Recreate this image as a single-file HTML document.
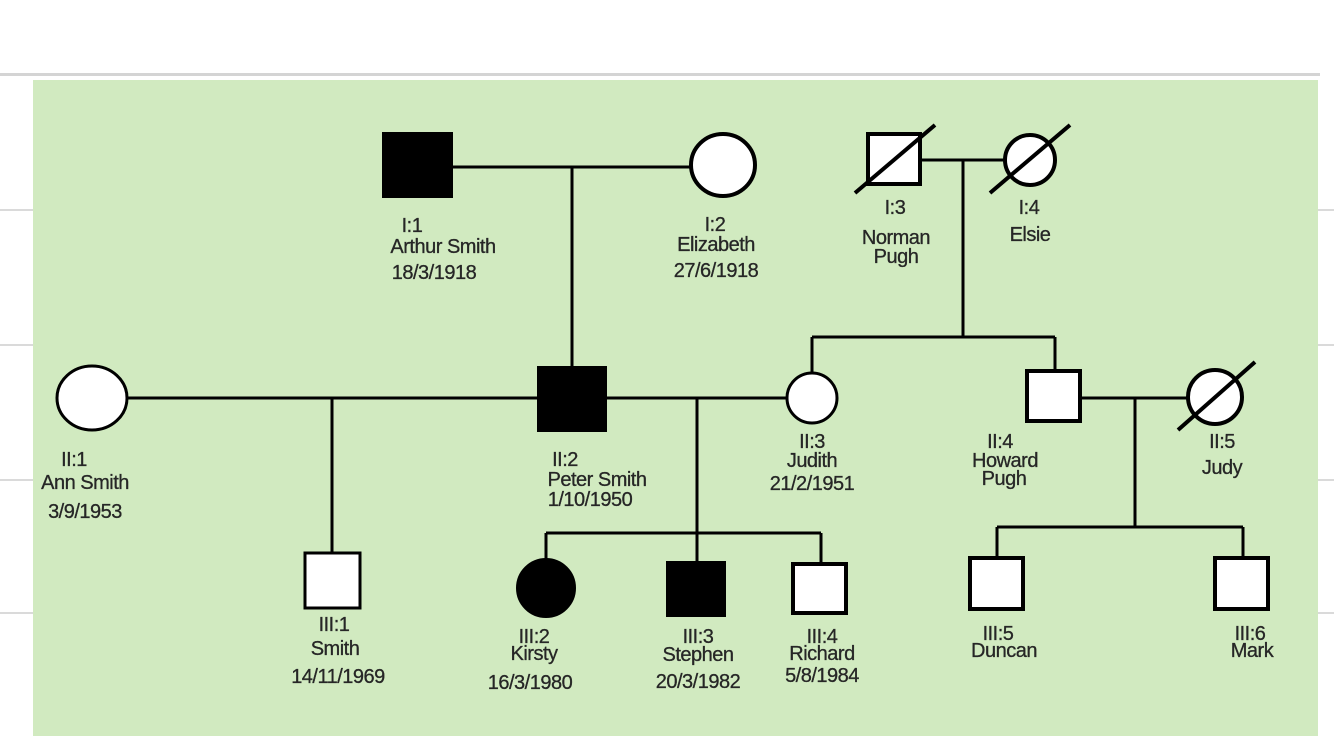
<!DOCTYPE html>
<html><head><meta charset="utf-8"><style>
html,body{margin:0;padding:0;background:#fff;}
svg{display:block;}
text{font-family:"Liberation Sans",Arial,sans-serif;font-size:20px;fill:#262626;stroke:#262626;stroke-width:0.3px;text-anchor:middle;letter-spacing:-0.5px;}
</style></head><body>
<svg width="1334" height="736" viewBox="0 0 1334 736" xmlns="http://www.w3.org/2000/svg">
<rect x="0" y="0" width="1334" height="736" fill="#fff"/>
<rect x="0" y="73" width="1320" height="3" fill="#d4d4d4"/>
<g fill="#dadada">
<rect x="0" y="209" width="33" height="2"/><rect x="0" y="344" width="33" height="2"/><rect x="0" y="479" width="33" height="2"/><rect x="0" y="612" width="33" height="2"/>
<rect x="1318" y="209" width="16" height="2"/><rect x="1318" y="344" width="16" height="2"/><rect x="1318" y="479" width="16" height="2"/><rect x="1318" y="612" width="16" height="2"/>
</g>
<rect x="33" y="80" width="1285" height="656" fill="#d1eac0"/>
<g stroke="#000" stroke-width="3" fill="none">
<line x1="452" y1="167" x2="690" y2="167"/>
<line x1="572" y1="167" x2="572" y2="367"/>
<line x1="921" y1="160" x2="1004" y2="160"/>
<line x1="963" y1="160" x2="963" y2="337"/>
<line x1="812" y1="337" x2="1055" y2="337"/>
<line x1="812" y1="337" x2="812" y2="373"/>
<line x1="1055" y1="337" x2="1055" y2="370"/>
<line x1="128" y1="398" x2="538" y2="398"/>
<line x1="332" y1="398" x2="332" y2="552"/>
<line x1="606" y1="398" x2="786" y2="398"/>
<line x1="697" y1="398" x2="697" y2="562"/>
<line x1="546" y1="533" x2="821" y2="533"/>
<line x1="546" y1="533" x2="546" y2="560"/>
<line x1="821" y1="533" x2="821" y2="563"/>
<line x1="1081" y1="398" x2="1188" y2="398"/>
<line x1="1135" y1="398" x2="1135" y2="527"/>
<line x1="997" y1="527" x2="1243" y2="527"/>
<line x1="997" y1="527" x2="997" y2="557"/>
<line x1="1243" y1="527" x2="1243" y2="557"/>
</g>
<g stroke="#000" stroke-width="4">
<rect x="384" y="134" width="67" height="62" fill="#000"/>
<ellipse cx="723" cy="165" rx="32" ry="31" fill="#fff"/>
<rect x="868" y="134" width="52" height="50" fill="#fff"/>
<line x1="855" y1="193" x2="935" y2="125"/>
<circle cx="1030" cy="160" r="25" fill="#fff"/>
<line x1="990" y1="193" x2="1070" y2="125"/>
<ellipse cx="92" cy="398" rx="35" ry="32" fill="#fff" stroke-width="3"/>
<rect x="539" y="368" width="66" height="62" fill="#000"/>
<circle cx="812" cy="398" r="25" fill="#fff" stroke-width="3"/>
<rect x="1027" y="371" width="53" height="50" fill="#fff"/>
<circle cx="1215" cy="397" r="27" fill="#fff"/>
<line x1="1178" y1="430" x2="1255" y2="362"/>
<rect x="305" y="553" width="55" height="55" fill="#fff" stroke-width="3"/>
<circle cx="546" cy="588" r="28" fill="#000"/>
<rect x="668" y="563" width="56" height="52" fill="#000"/>
<rect x="793" y="564" width="53" height="49" fill="#fff"/>
<rect x="970" y="558" width="53" height="51" fill="#fff"/>
<rect x="1215" y="558" width="53" height="51" fill="#fff"/>
</g>
<text x="412" y="232">I:1</text>
<text x="443" y="253">Arthur Smith</text>
<text x="434" y="279">18/3/1918</text>
<text x="715" y="231">I:2</text>
<text x="716" y="251">Elizabeth</text>
<text x="716" y="277">27/6/1918</text>
<text x="895" y="214">I:3</text>
<text x="896" y="244">Norman</text>
<text x="896" y="263">Pugh</text>
<text x="1029" y="214">I:4</text>
<text x="1030" y="241">Elsie</text>
<text x="74" y="466">II:1</text>
<text x="85" y="489">Ann Smith</text>
<text x="85" y="518">3/9/1953</text>
<text x="565" y="466">II:2</text>
<text x="597" y="486">Peter Smith</text>
<text x="590" y="506">1/10/1950</text>
<text x="812" y="448">II:3</text>
<text x="812" y="467">Judith</text>
<text x="812" y="490">21/2/1951</text>
<text x="1000" y="448">II:4</text>
<text x="1005" y="467">Howard</text>
<text x="1004" y="485">Pugh</text>
<text x="1222" y="448">II:5</text>
<text x="1222" y="474">Judy</text>
<text x="334" y="631">III:1</text>
<text x="335" y="655">Smith</text>
<text x="338" y="683">14/11/1969</text>
<text x="534" y="643">III:2</text>
<text x="534" y="660">Kirsty</text>
<text x="530" y="689">16/3/1980</text>
<text x="698" y="643">III:3</text>
<text x="698" y="661">Stephen</text>
<text x="698" y="688">20/3/1982</text>
<text x="822" y="643">III:4</text>
<text x="822" y="660">Richard</text>
<text x="822" y="682">5/8/1984</text>
<text x="998" y="640">III:5</text>
<text x="1004" y="657">Duncan</text>
<text x="1250" y="640">III:6</text>
<text x="1252" y="657">Mark</text>
</svg>
</body></html>
